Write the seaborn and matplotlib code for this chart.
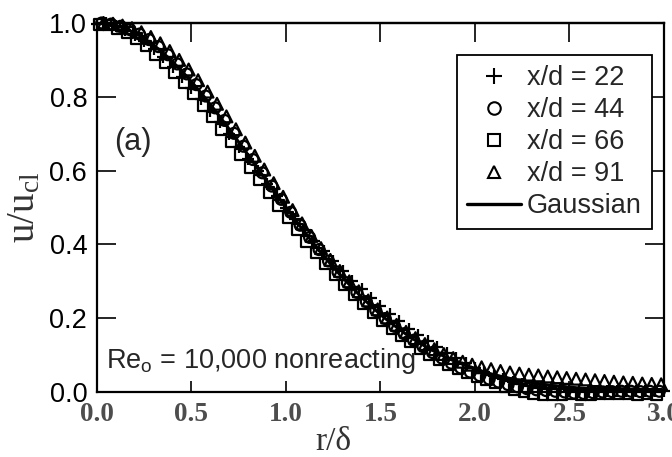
import matplotlib
matplotlib.use("Agg")
import matplotlib.pyplot as plt
import seaborn as sns
import pandas as pd
from matplotlib.lines import Line2D

# ---------------- data ----------------
r_22 = [0.00, 0.05, 0.10, 0.15, 0.20, 0.25, 0.30, 0.35, 0.40, 0.45, 0.50, 0.55, 0.60, 0.65, 0.70,
        0.75, 0.80, 0.85, 0.90, 0.95, 1.00, 1.05, 1.10, 1.15, 1.20, 1.25, 1.30, 1.35, 1.40, 1.45,
        1.50, 1.55, 1.60, 1.65, 1.70, 1.75, 1.80, 1.85, 1.90, 1.95, 2.00, 2.05, 2.10, 2.15, 2.20,
        2.25, 2.30, 2.35, 2.40, 2.45, 2.50, 2.55, 2.60, 2.65, 2.70, 2.75, 2.80, 2.85, 2.90, 2.95, 3.00]
u_22 = [0.998, 1.000, 0.992, 0.982, 0.968, 0.950, 0.930, 0.907, 0.882, 0.853, 0.823, 0.794, 0.762,
        0.731, 0.698, 0.665, 0.632, 0.598, 0.565, 0.532, 0.500, 0.470, 0.440, 0.410, 0.382, 0.354,
        0.328, 0.302, 0.278, 0.255, 0.233, 0.212, 0.192, 0.172, 0.155, 0.138, 0.122, 0.106, 0.092,
        0.078, 0.066, 0.054, 0.044, 0.035, 0.028, 0.022, 0.017, 0.013, 0.010, 0.008, 0.006, 0.005,
        0.004, 0.004, 0.003, 0.003, 0.003, 0.002, 0.002, 0.002, 0.002]

r_44 = [0.025, 0.075, 0.125, 0.175, 0.225, 0.275, 0.325, 0.375, 0.425, 0.475, 0.525, 0.575, 0.625,
        0.675, 0.725, 0.775, 0.825, 0.875, 0.925, 0.975, 1.025, 1.075, 1.125, 1.175, 1.225, 1.275,
        1.325, 1.375, 1.425, 1.475, 1.525, 1.575, 1.625, 1.675, 1.725, 1.775, 1.825, 1.875, 1.925,
        1.975, 2.025, 2.075, 2.125, 2.175, 2.225, 2.275, 2.325, 2.375, 2.425, 2.475, 2.525, 2.575,
        2.625, 2.675, 2.725, 2.775, 2.825, 2.875, 2.925, 2.975]
u_44 = [1.000, 0.997, 0.991, 0.982, 0.970, 0.955, 0.936, 0.914, 0.889, 0.862, 0.833, 0.802, 0.770,
        0.736, 0.701, 0.666, 0.630, 0.594, 0.558, 0.522, 0.487, 0.452, 0.419, 0.386, 0.355, 0.325,
        0.296, 0.270, 0.245, 0.221, 0.199, 0.178, 0.158, 0.140, 0.123, 0.107, 0.092, 0.078, 0.065,
        0.054, 0.044, 0.035, 0.027, 0.020, 0.014, 0.009, 0.006, 0.004, 0.002, 0.000, -0.003, -0.004,
        -0.002, 0.000, 0.001, 0.002, 0.002, 0.001, 0.002, 0.002]

r_66 = [0.01, 0.06, 0.11, 0.16, 0.21, 0.26, 0.31, 0.36, 0.41, 0.46, 0.51, 0.56, 0.61, 0.66, 0.71,
        0.76, 0.81, 0.86, 0.91, 0.96, 1.01, 1.06, 1.11, 1.16, 1.21, 1.26, 1.31, 1.36, 1.41, 1.46,
        1.51, 1.56, 1.61, 1.66, 1.71, 1.76, 1.81, 1.86, 1.91, 1.96, 2.01, 2.06, 2.11, 2.16, 2.21,
        2.26, 2.31, 2.36, 2.41, 2.46, 2.51, 2.56, 2.61, 2.66, 2.71, 2.76, 2.81, 2.86, 2.91, 2.96]
u_66 = [0.996, 0.994, 0.985, 0.974, 0.958, 0.938, 0.915, 0.892, 0.866, 0.838, 0.808, 0.777, 0.745,
        0.712, 0.678, 0.644, 0.609, 0.575, 0.540, 0.506, 0.473, 0.440, 0.408, 0.377, 0.347, 0.318,
        0.290, 0.264, 0.239, 0.215, 0.193, 0.172, 0.153, 0.135, 0.118, 0.102, 0.088, 0.075, 0.063,
        0.052, 0.042, 0.033, 0.024, 0.015, 0.007, 0.001, -0.004, -0.006, -0.007, -0.006, -0.005,
        -0.006, -0.006, -0.005, -0.004, -0.005, -0.005, -0.006, -0.005, -0.006]

r_91 = [0.035, 0.085, 0.135, 0.185, 0.235, 0.285, 0.335, 0.385, 0.435, 0.485, 0.535, 0.585, 0.635,
        0.685, 0.735, 0.785, 0.835, 0.885, 0.935, 0.985, 1.035, 1.085, 1.135, 1.185, 1.235, 1.285,
        1.335, 1.385, 1.435, 1.485, 1.535, 1.585, 1.635, 1.685, 1.735, 1.785, 1.835, 1.885, 1.935,
        1.985, 2.035, 2.085, 2.135, 2.185, 2.235, 2.285, 2.335, 2.385, 2.435, 2.485, 2.535, 2.585,
        2.635, 2.685, 2.735, 2.785, 2.835, 2.885, 2.935, 2.985]
u_91 = [1.000, 0.998, 0.993, 0.986, 0.975, 0.962, 0.945, 0.924, 0.900, 0.874, 0.845, 0.814, 0.781,
        0.747, 0.712, 0.676, 0.640, 0.603, 0.566, 0.529, 0.493, 0.457, 0.423, 0.390, 0.358, 0.328,
        0.300, 0.273, 0.248, 0.224, 0.202, 0.182, 0.163, 0.146, 0.130, 0.116, 0.103, 0.092, 0.082,
        0.074, 0.067, 0.062, 0.057, 0.053, 0.050, 0.047, 0.045, 0.042, 0.040, 0.038, 0.036, 0.034,
        0.032, 0.030, 0.028, 0.026, 0.025, 0.023, 0.022, 0.021]

r_gauss = [0.00, 0.05, 0.10, 0.15, 0.20, 0.25, 0.30, 0.35, 0.40, 0.45, 0.50, 0.55, 0.60, 0.65, 0.70,
           0.75, 0.80, 0.85, 0.90, 0.95, 1.00, 1.05, 1.10, 1.15, 1.20, 1.25, 1.30, 1.35, 1.40, 1.45,
           1.50, 1.55, 1.60, 1.65, 1.70, 1.75, 1.80, 1.85, 1.90, 1.95, 2.00, 2.05, 2.10, 2.15, 2.20,
           2.25, 2.30, 2.35, 2.40, 2.45, 2.50, 2.60, 2.70, 2.80, 2.90, 3.00]
u_gauss = [1.000, 0.998, 0.993, 0.985, 0.973, 0.958, 0.940, 0.919, 0.895, 0.869, 0.841, 0.811, 0.779,
           0.746, 0.712, 0.677, 0.642, 0.606, 0.570, 0.535, 0.500, 0.466, 0.432, 0.400, 0.369, 0.338,
           0.310, 0.283, 0.257, 0.233, 0.210, 0.189, 0.170, 0.151, 0.135, 0.120, 0.106, 0.093, 0.082,
           0.072, 0.0625, 0.054, 0.047, 0.041, 0.035, 0.030, 0.026, 0.022, 0.018, 0.016, 0.013,
           0.009, 0.006, 0.004, 0.003, 0.002]

series_labels = ["x/d = 22", "x/d = 44", "x/d = 66", "x/d = 91"]
x_ticks = [0.0, 0.5, 1.0, 1.5, 2.0, 2.5, 3.0]
y_ticks = [0.0, 0.2, 0.4, 0.6, 0.8, 1.0]

# ---------------- styling ----------------
sns.set_theme(style="white")
plt.rcParams['font.family'] = ['Liberation Sans', 'DejaVu Sans']
plt.rcParams['axes.edgecolor'] = 'black'

fig = plt.figure(figsize=(6.72, 4.57), dpi=100)
ax = fig.add_axes([0.1443, 0.1422, 0.8438, 0.8075])

sns.lineplot(x=r_gauss, y=u_gauss, color='black', lw=2.2, ax=ax, legend=False, zorder=2)

MW = 1.6
series = [
    (r_22, u_22, '+', 80),
    (r_44, u_44, 'o', 62),
    (r_66, u_66, 's', 58),
    (r_91, u_91, '^', 72),
]
for r, u, m, s in series:
    df = pd.DataFrame({"r": r, "u": u})
    if m == '+':
        sns.scatterplot(data=df, x="r", y="u", marker=m, s=s, color='black',
                        linewidth=MW, ax=ax, legend=False, clip_on=False, zorder=3)
    else:
        sns.scatterplot(data=df, x="r", y="u", marker=m, s=s, color='black',
                        facecolor='none', edgecolor='black', linewidth=MW,
                        ax=ax, legend=False, clip_on=False, zorder=3)

ax.set_xlim(0, 3.0)
ax.set_ylim(0, 1.0)
ax.set_xticks(x_ticks)
ax.set_yticks(y_ticks)
ax.set_xticklabels([f"{t:.1f}" for t in x_ticks], fontfamily='Liberation Serif',
                   fontweight='bold', fontsize=19.5, color='#4d4d4d')
ax.set_yticklabels([f"{t:.1f}" for t in y_ticks], fontsize=19.5, color='black')

for side in ['left', 'bottom', 'right', 'top']:
    ax.spines[side].set_linewidth(1.6)
    ax.spines[side].set_color('black')

ax.tick_params(axis='y', which='major', direction='in', left=True, right=True,
               length=14, width=1.2, pad=7, color='black')
ax.tick_params(axis='x', which='major', direction='in', bottom=True, top=False,
               length=8, width=1.2, pad=7, color='black')
sec = ax.secondary_xaxis('top')
sec.set_xticks(x_ticks)
sec.tick_params(direction='in', length=14, width=1.2, labeltop=False, color='black')
sec.spines['top'].set_linewidth(1.6)

ax.set_xlabel('r/δ', fontfamily='Liberation Serif', fontsize=24, color='#333333')
ax.xaxis.set_label_coords((333 - 97) / 567, (392 - 426) / 369)
ax.set_ylabel(r'$\mathregular{u/u_{cl}}$', fontfamily='Liberation Serif', fontsize=28,
              color='#333333')
ax.yaxis.set_label_coords(-0.095, 0.5)

ax.text(0.03, 0.677, '(a)', transform=ax.transAxes, fontsize=22, ha='left', va='center')
ax.text(0.016, 0.065, r'Re$\mathregular{_o}$ = 10,000 nonreacting', transform=ax.transAxes,
        fontsize=19.5, ha='left', va='baseline')

handles = [
    Line2D([], [], ls='none', marker='+', ms=11, mew=1.5, color='black'),
    Line2D([], [], ls='none', marker='o', ms=9, mew=1.5, mfc='none', mec='black'),
    Line2D([], [], ls='none', marker='s', ms=9, mew=1.5, mfc='none', mec='black'),
    Line2D([], [], ls='none', marker='^', ms=9, mew=1.5, mfc='none', mec='black'),
    Line2D([], [], color='black', lw=2.4),
]
labels = series_labels + ["Gaussian"]
leg = ax.legend(handles, labels, loc='upper right', bbox_to_anchor=(652 / 672, 1 - 55 / 457),
                bbox_transform=fig.transFigure, borderaxespad=0, fontsize=19.5, frameon=True,
                fancybox=False, framealpha=1, edgecolor='black', borderpad=0.38,
                labelspacing=0.22, handlelength=2.0, handletextpad=0.2)
leg.get_frame().set_linewidth(1.3)

fig.savefig('out.png', dpi=100)
